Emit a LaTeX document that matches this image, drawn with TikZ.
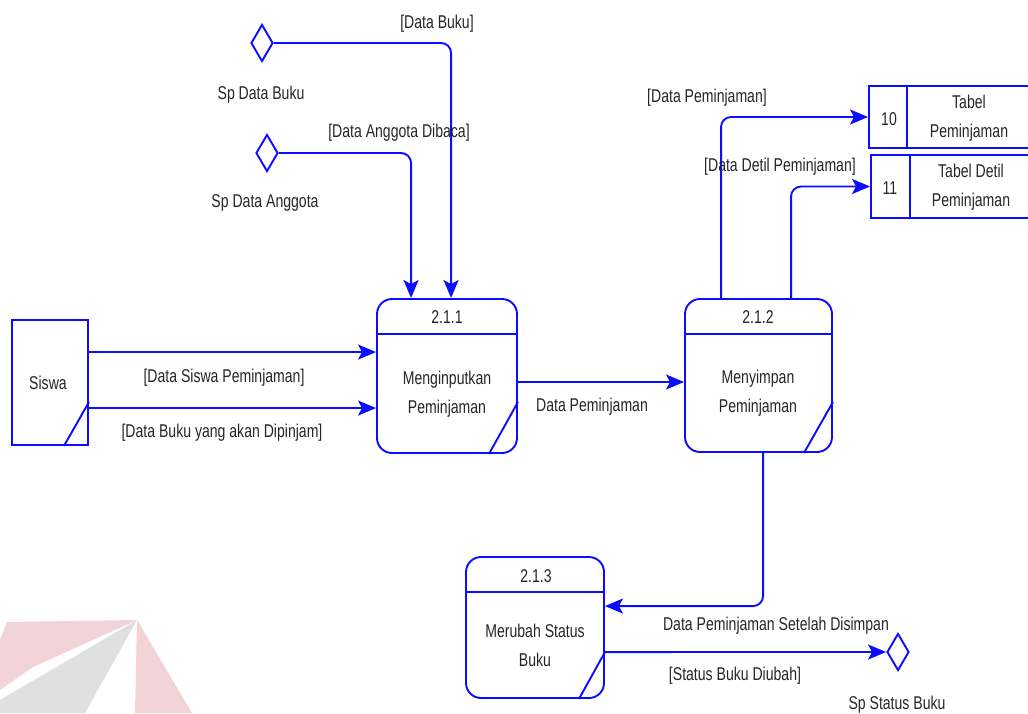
\documentclass[tikz,border=0pt]{standalone}
\usepackage{fontspec}
\setmainfont{Liberation Sans}[FakeStretch=0.76]
\usetikzlibrary{arrows.meta,calc,shapes.geometric}
\definecolor{flowblue}{RGB}{12,12,255}
\definecolor{wmpink}{RGB}{242,212,216}
\definecolor{wmgray}{RGB}{224,224,224}
\begin{document}
\begin{tikzpicture}[x=1pt,y=-1pt,
  font=\fontsize{18.5}{29}\selectfont,
  line/.style={draw=flowblue, line width=1.9pt},
  flow/.style={line, rounded corners=10pt, -{Stealth[length=18pt,width=15pt,inset=4pt]}},
  proc/.style={line, rounded corners=15pt, inner sep=0pt},
  entity/.style={line, inner sep=0pt},
  storebox/.style={line, inner sep=0pt},
  dia/.style={line, shape=diamond, minimum width=22pt, minimum height=37pt, inner sep=0pt},
  lbl/.style={inner sep=0pt, align=center, text=black!85}]

% page
\useasboundingbox[fill=white] (0,0) rectangle (1028,713);

% faint logo in the lower left corner
\fill[wmpink] (0,640) -- (7,622) -- (137,620) -- (33,667) -- (0,690) -- cycle;
\fill[wmgray] (137,620) -- (0,700) -- (0,713) -- (85,713) -- cycle;
\fill[wmpink] (137,620) -- (135,713) -- (192,713) -- cycle;

% external entity
\node[entity, minimum width=76pt, minimum height=125pt] (siswa) at (50,382.5) {};
\node[lbl] (siswaT) at (48,383) {Siswa};
\draw[line] ($(siswa.north east)+(0,83)$) -- ($(siswa.south east)+(-25,0)$);

% processes
\node[proc, minimum width=140pt, minimum height=154pt] (p1) at (447,376) {};
\draw[line] ($(p1.north west)+(0,36)$) -- ($(p1.north east)+(0,36)$);
\draw[line] ($(p1.north east)+(0,104)$) -- ($(p1.south east)+(-29,0)$);
\node[lbl] (p1id) at (447,317) {2.1.1};
\node[lbl] (p1T) at (447,394) {Menginputkan\\Peminjaman};

\node[proc, minimum width=147pt, minimum height=153pt] (p2) at (758.5,375.5) {};
\draw[line] ($(p2.north west)+(0,36)$) -- ($(p2.north east)+(0,36)$);
\draw[line] ($(p2.north east)+(0,104)$) -- ($(p2.south east)+(-29,0)$);
\node[lbl] (p2id) at (758,317) {2.1.2};
\node[lbl] (p2T) at (758,393.5) {Menyimpan\\Peminjaman};

\node[proc, minimum width=138pt, minimum height=141pt] (p3) at (535,627.5) {};
\draw[line] ($(p3.north west)+(0,36)$) -- ($(p3.north east)+(0,36)$);
\draw[line] ($(p3.north east)+(0,96)$) -- ($(p3.south east)+(-26,0)$);
\node[lbl] (p3id) at (536,576) {2.1.3};
\node[lbl] (p3T) at (535,645) {Merubah Status\\Buku};

% data stores
\node[storebox, minimum width=171pt, minimum height=62pt] (s10) at (954.5,117) {};
\draw[line] ($(s10.north west)+(39,0)$) -- ($(s10.south west)+(39,0)$);
\node[lbl] (s10n) at (889,119) {10};
\node[lbl] (s10T) at (969,118) {Tabel\\Peminjaman};

\node[storebox, minimum width=169pt, minimum height=63pt] (s11) at (955.5,186.5) {};
\draw[line] ($(s11.north west)+(40,0)$) -- ($(s11.south west)+(40,0)$);
\node[lbl] (s11n) at (890,188) {11};
\node[lbl] (s11T) at (971,187) {Tabel Detil\\Peminjaman};

% stored procedures
\node[dia] (d1) at (262,43) {};
\node[lbl] (d1T) at (261,95) {Sp Data Buku};
\node[dia] (d2) at (267,153) {};
\node[lbl] (d2T) at (265,203) {Sp Data Anggota};
\node[dia] (d3) at (898,652) {};
\node[lbl] (d3T) at (897,705) {Sp Status Buku};

% flows
\draw[flow] (d1.east) -| ($(p1.north west)+(75,0)$);
\node[lbl] (f1) at (437,24) {[Data Buku]};
\draw[flow] (d2.east) -| ($(p1.north west)+(35,0)$);
\node[lbl] (f2) at (399,133) {[Data Anggota Dibaca]};

\draw[flow] ($(siswa.north east)+(0,33)$) -- ($(p1.north west)+(0,54)$);
\node[lbl] (f3) at (224,378) {[Data Siswa Peminjaman]};
\draw[flow] ($(siswa.north east)+(0,89)$) -- ($(p1.north west)+(0,110)$);
\node[lbl] (f4) at (222,433) {[Data Buku yang akan Dipinjam]};

\draw[flow] ($(p1.east)+(0,6)$) -- ($(p2.west)+(0,6.5)$);
\node[lbl] (f5) at (592,407) {Data Peminjaman};

\draw[flow] ($(p2.north west)+(37,0)$) |- (s10.west);
\node[lbl] (f6) at (707,98) {[Data Peminjaman]};
\draw[flow] ($(p2.north west)+(107,0)$) |- (s11.west);
\node[lbl] (f7) at (780,167) {[Data Detil Peminjaman]};

\draw[flow] ($(p2.south west)+(79,0)$) |- ($(p3.north east)+(0,50)$);
\node[lbl] (f8) at (776,626) {Data Peminjaman Setelah Disimpan};

\draw[flow] ($(p3.north east)+(0,96)$) -- (d3.west);
\node[lbl] (f9) at (735,676) {[Status Buku Diubah]};
\end{tikzpicture}
\end{document}
